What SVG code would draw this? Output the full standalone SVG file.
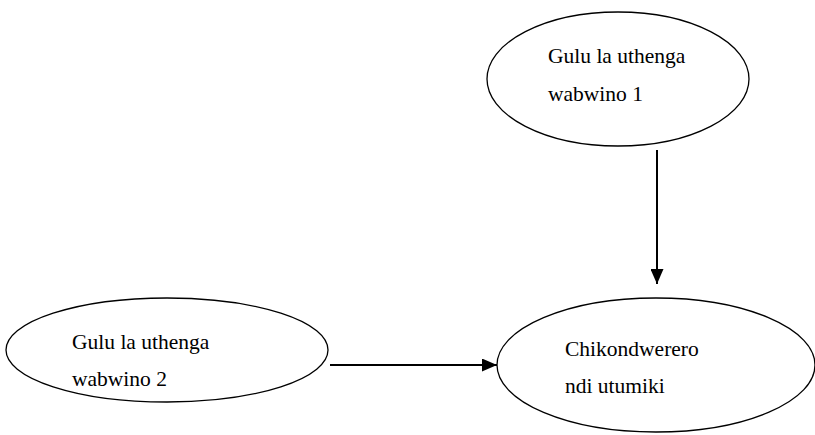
<svg xmlns="http://www.w3.org/2000/svg" width="815" height="435" viewBox="0 0 815 435">
<defs>
<style>
.node{fill:#fff;stroke:#000;stroke-width:1.3}
.lbl{font-family:"Liberation Serif","Times New Roman",serif;font-size:21.5px;fill:#000}
.edge{stroke:#000;stroke-width:2;fill:none}
</style>
<marker id="arr" viewBox="0 0 15 13" markerWidth="15" markerHeight="13" refX="15" refY="6.5" orient="auto" markerUnits="userSpaceOnUse"><path d="M0,0 L15,6.5 L0,13 z" fill="#000"/></marker>
</defs>
<rect width="815" height="435" fill="#fff"/>
<g id="n1">
<ellipse class="node" cx="618" cy="79" rx="131" ry="67"/>
<text class="lbl" x="548" y="63">Gulu la uthenga</text>
<text class="lbl" x="548" y="101">wabwino 1</text>
</g>
<g id="n2">
<ellipse class="node" cx="167" cy="350" rx="161" ry="52"/>
<text class="lbl" x="72" y="349">Gulu la uthenga</text>
<text class="lbl" x="72" y="386">wabwino 2</text>
</g>
<g id="n3">
<ellipse class="node" cx="656" cy="365" rx="159" ry="67"/>
<text class="lbl" x="565" y="356">Chikondwerero</text>
<text class="lbl" x="565" y="393">ndi utumiki</text>
</g>
<g id="edges">
<line class="edge" x1="657" y1="150" x2="657" y2="284" marker-end="url(#arr)"/>
<line class="edge" x1="330" y1="365" x2="497" y2="365" marker-end="url(#arr)"/>
</g>
</svg>
